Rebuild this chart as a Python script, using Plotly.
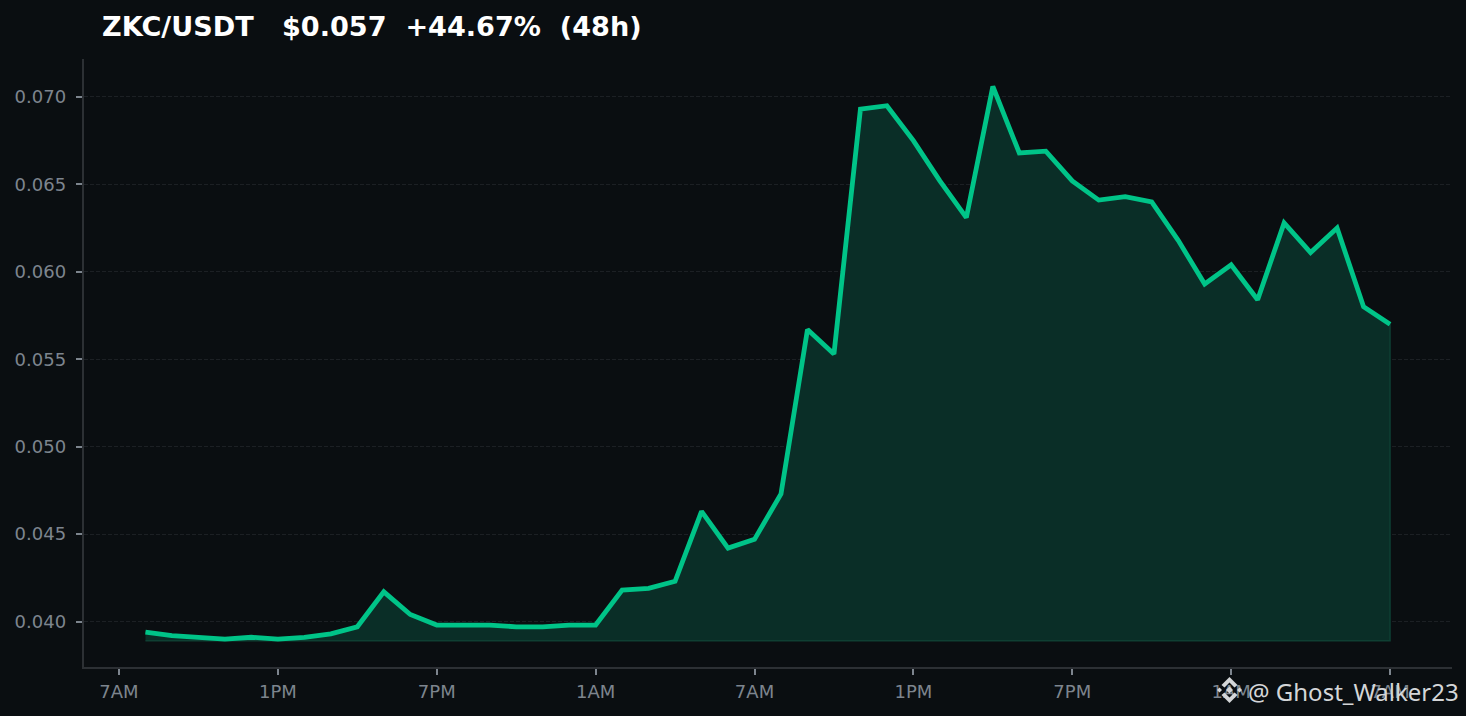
import plotly.graph_objects as go

# Hours since the first 7AM tick, one price per hour
hours = list(range(1, 49))
prices = [
    0.0394, 0.0392, 0.0391, 0.0390, 0.0391, 0.0390, 0.0391, 0.0393, 0.0397, 0.0417,
    0.0404, 0.0398, 0.0398, 0.0398, 0.0397, 0.0397, 0.0398, 0.0398, 0.0418, 0.0419,
    0.0423, 0.0463, 0.0442, 0.0447, 0.0473, 0.0567, 0.0553, 0.0693, 0.0695, 0.0675,
    0.0652, 0.0631, 0.0706, 0.0668, 0.0669, 0.0652, 0.0641, 0.0643, 0.0640, 0.0618,
    0.0593, 0.0604, 0.0584, 0.0628, 0.0611, 0.0625, 0.0580, 0.0570,
]
fill_base = 0.0389

x_tickvals = [0, 6, 12, 18, 24, 30, 36, 42, 48]
x_ticktext = ["7AM", "1PM", "7PM", "1AM", "7AM", "1PM", "7PM", "1AM", "7AM"]
y_tickvals = [0.040, 0.045, 0.050, 0.055, 0.060, 0.065, 0.070]
y_ticktext = ["0.040", "0.045", "0.050", "0.055", "0.060", "0.065", "0.070"]

title_text = "ZKC/USDT\u00a0\u00a0 $0.057\u00a0 +44.67%\u00a0 (48h)"
watermark_text = "@ Ghost_Walker23"

WIDTH = 1466
HEIGHT = 716
BG = "#0a0e11"
GREEN = "#00c488"
TICK_COLOR = "#7d858e"
AXIS_COLOR = "#2c3034"
LOGO_COLOR = "#d4d6d8"
LOGO_X = 1229.5
LOGO_Y = 690


# Closed polygon for the watermark logo, offsets in page pixels from its centre
def logo_shape(points):
    coords = [f"{(LOGO_X + dx) / WIDTH} {1 - (LOGO_Y + dy) / HEIGHT}" for dx, dy in points]
    return dict(
        type="path",
        xref="paper",
        yref="paper",
        path="M " + " L ".join(coords) + " Z",
        fillcolor=LOGO_COLOR,
        line=dict(width=0),
        layer="above",
    )


chevron = [(0, -13), (8, -5), (5, -2.5), (0, -7.5), (-5, -2.5), (-8, -5)]
logo_parts = [
    chevron,
    [(dx, -dy) for dx, dy in chevron],
    [(0, -3.5), (3.5, 0), (0, 3.5), (-3.5, 0)],
    [(-10, -2.5), (-7.5, 0), (-10, 2.5), (-12.5, 0)],
    [(10, -2.5), (12.5, 0), (10, 2.5), (7.5, 0)],
]

fig = go.Figure()

# Shaded area down to the fixed base
fig.add_trace(go.Scatter(
    x=hours + hours[::-1],
    y=prices + [fill_base] * len(hours),
    mode="lines",
    fill="toself",
    fillcolor="#0a2e27",
    line=dict(color="#0f3f33", width=1.5),
    hoverinfo="skip",
    showlegend=False,
))

# Price line
fig.add_trace(go.Scatter(
    x=hours,
    y=prices,
    mode="lines",
    line=dict(color=GREEN, width=4.8),
    showlegend=False,
))

fig.update_layout(
    width=WIDTH,
    height=HEIGHT,
    autosize=False,
    margin=dict(l=0, r=0, t=0, b=0, pad=0),
    paper_bgcolor=BG,
    plot_bgcolor=BG,
    font=dict(family="DejaVu Sans", color=TICK_COLOR),
    xaxis=dict(
        domain=[83.5 / WIDTH, 1452 / WIDTH],
        range=[-1.34, 50.34],
        tickmode="array",
        tickvals=x_tickvals,
        ticktext=x_ticktext,
        ticks="outside",
        ticklen=6,
        tickwidth=1.5,
        tickcolor=TICK_COLOR,
        tickfont=dict(size=18, color=TICK_COLOR),
        ticklabelstandoff=2,
        showgrid=False,
        zeroline=False,
        showline=True,
        linecolor=AXIS_COLOR,
        linewidth=1.5,
    ),
    yaxis=dict(
        domain=[1 - 667 / HEIGHT, 1 - 59 / HEIGHT],
        range=[0.0374, 0.07217],
        tickmode="array",
        tickvals=y_tickvals,
        ticktext=y_ticktext,
        ticks="outside",
        ticklen=6,
        tickwidth=1.5,
        tickcolor=TICK_COLOR,
        tickfont=dict(size=18, color=TICK_COLOR),
        ticklabelstandoff=6,
        showgrid=True,
        gridcolor="#1c2024",
        griddash="4px,2px",
        gridwidth=1,
        zeroline=False,
        showline=True,
        linecolor=AXIS_COLOR,
        linewidth=1.5,
    ),
    annotations=[
        dict(
            text=f"<b>{title_text}</b>",
            xref="paper",
            yref="paper",
            x=100 / WIDTH,
            y=1 - 26.5 / HEIGHT,
            xanchor="left",
            yanchor="middle",
            showarrow=False,
            font=dict(family="DejaVu Sans", size=27.1, color="#ffffff"),
        ),
        dict(
            text=watermark_text,
            xref="paper",
            yref="paper",
            x=1461 / WIDTH,
            y=1 - 691 / HEIGHT,
            xanchor="right",
            yanchor="middle",
            showarrow=False,
            font=dict(family="Noto Sans", size=24, color=LOGO_COLOR),
        ),
    ],
    shapes=[logo_shape(part) for part in logo_parts],
)

fig.write_html("out.html", config=dict(displayModeBar=False), post_script="document.body.style.margin='0';document.body.style.overflow='hidden';")
